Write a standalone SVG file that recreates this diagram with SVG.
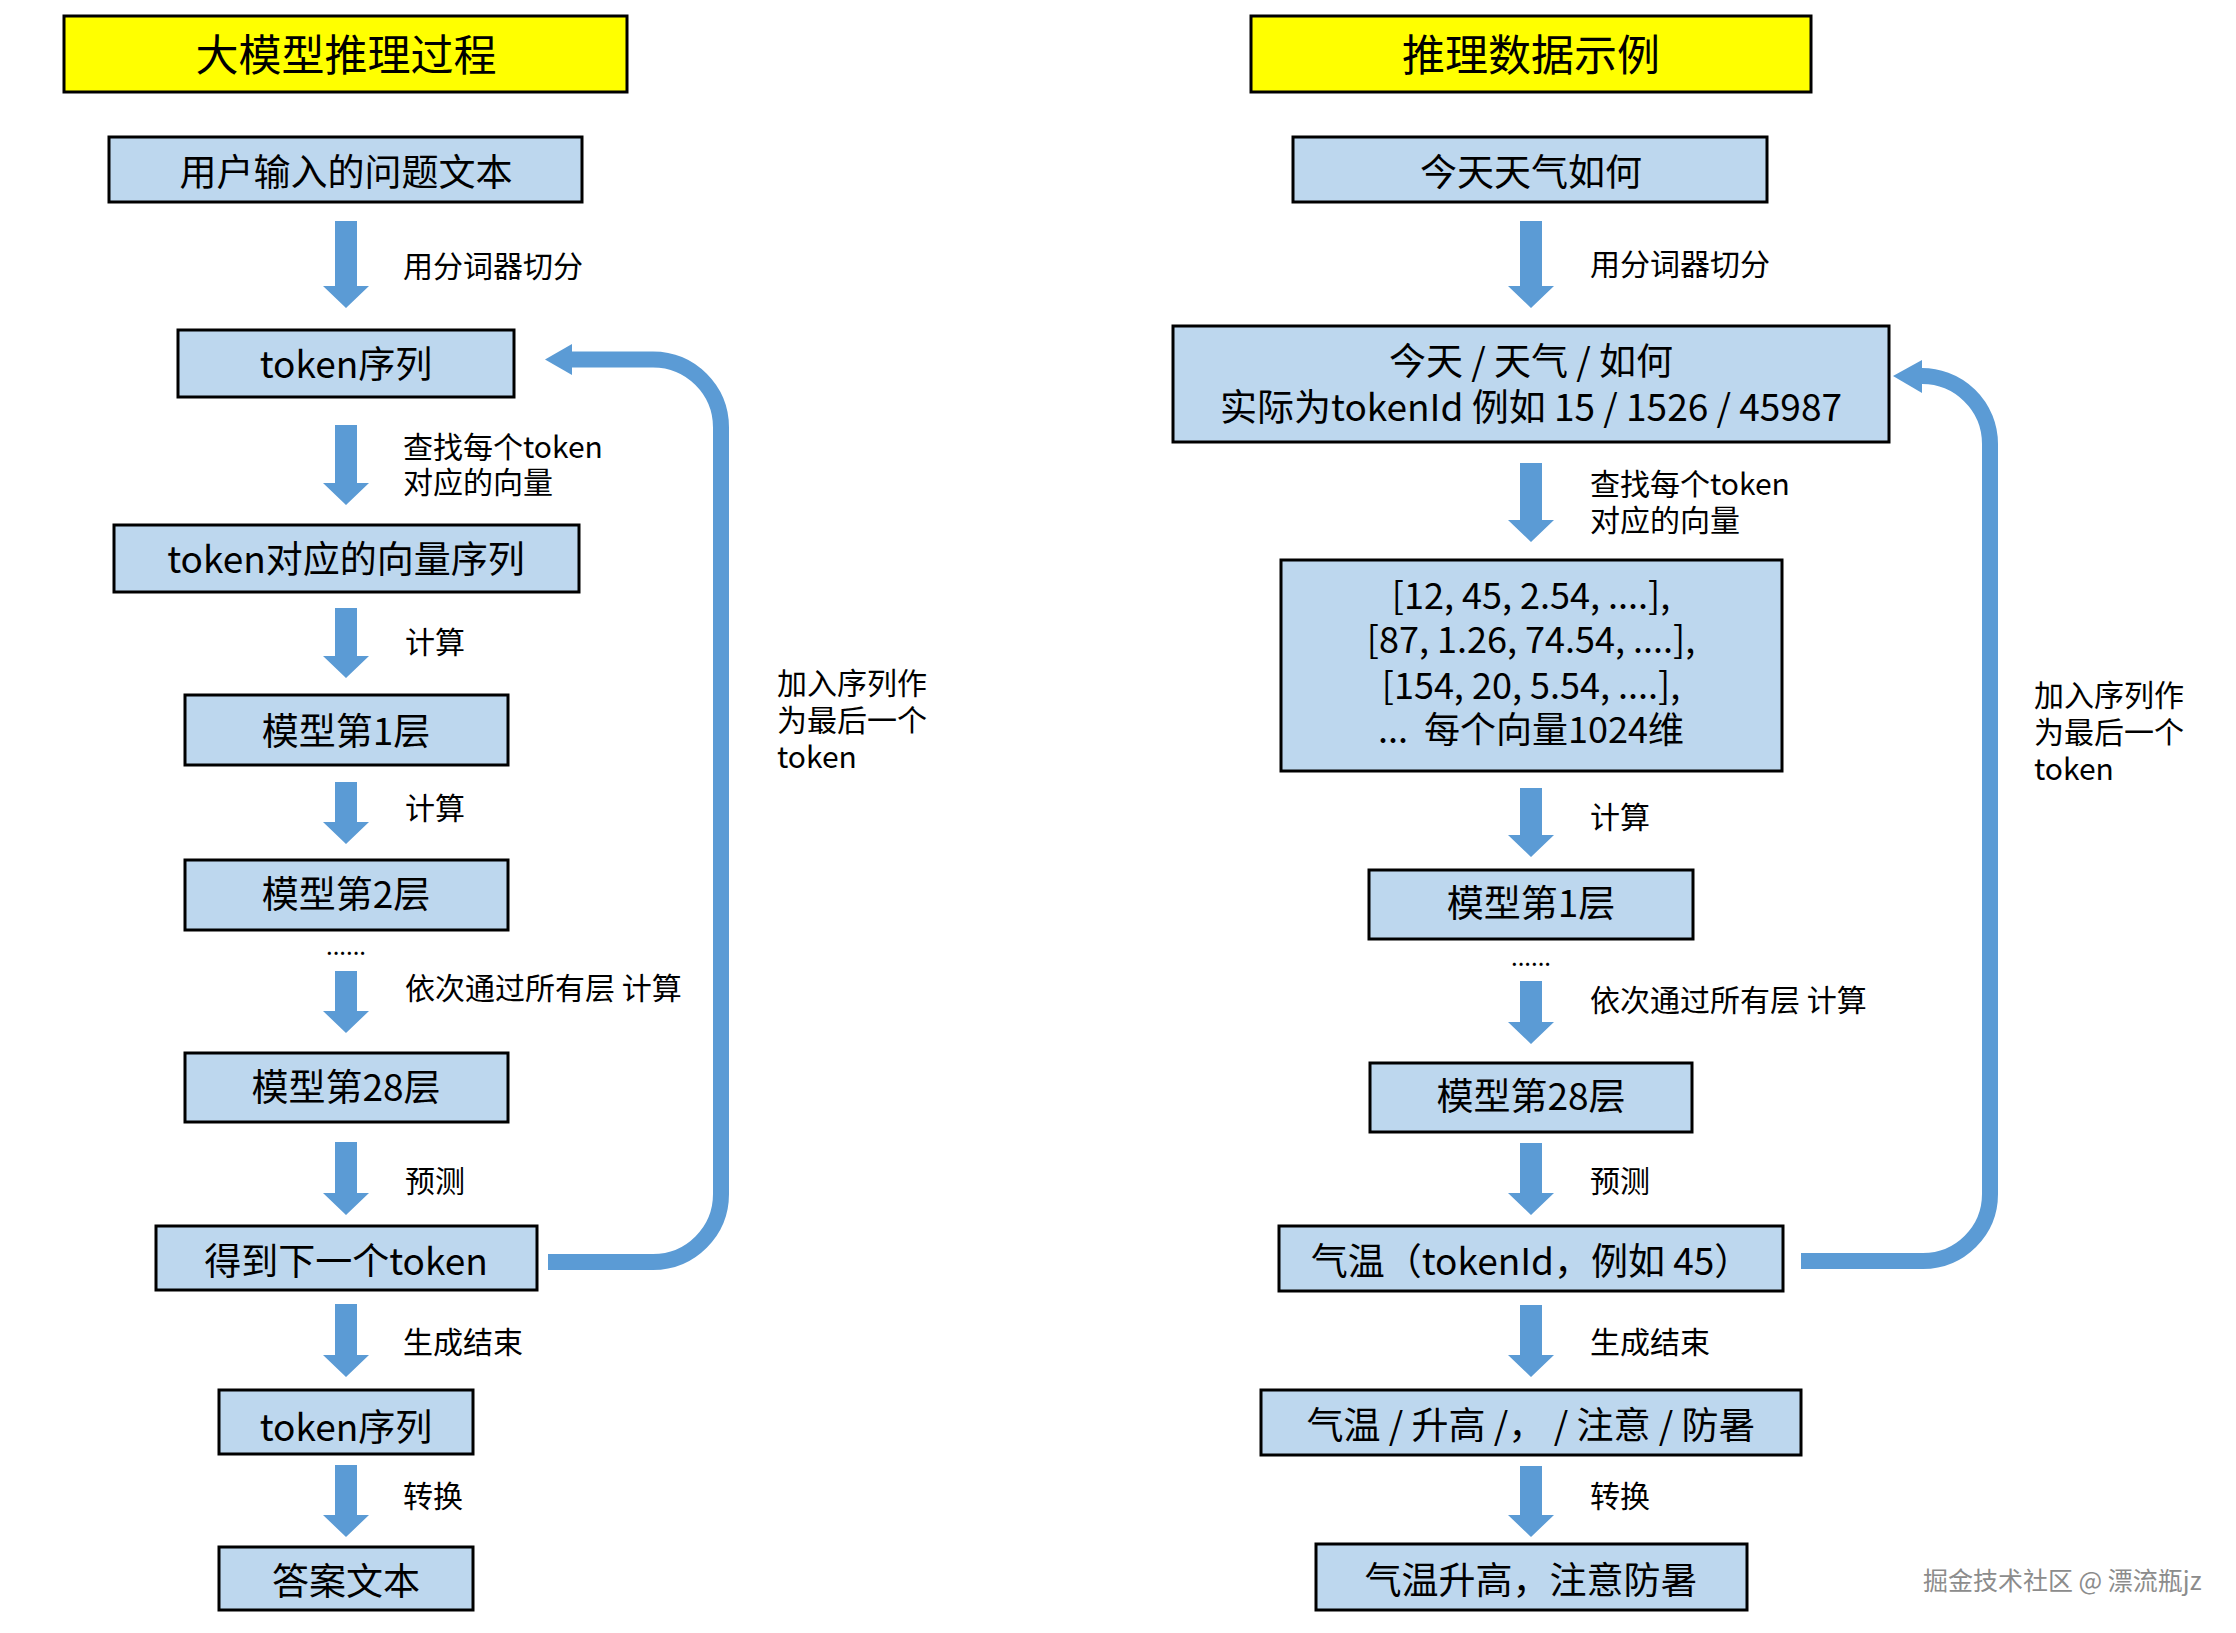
<svg xmlns="http://www.w3.org/2000/svg" width="2236" height="1633" viewBox="0 0 2236 1633">
<style>
text{font-family:"Noto Sans CJK SC","Liberation Sans",sans-serif;fill:#000}
.title{fill:#FFFF00;stroke:#000;stroke-width:3}
.box{fill:#BDD7EE;stroke:#000;stroke-width:3}
.tt{font-size:43px;text-anchor:middle}
.nt{font-size:37px;text-anchor:middle}
.vt{font-size:36px;text-anchor:middle}
.lb{font-size:30px}
.dots{font-size:24px;text-anchor:middle}
.arr{fill:#5B9BD5}
.loop{fill:none;stroke:#5B9BD5;stroke-width:16}
.wm{font-size:25px;fill:#8c8c8c}
</style>
<rect width="2236" height="1633" fill="#fff"/>

<g id="connectors">
  <path class="arr" d="M335 221H357V286H369L346 308L323 286H335Z"/>
  <path class="arr" d="M335 425H357V483H369L346 505L323 483H335Z"/>
  <path class="arr" d="M335 608H357V656H369L346 678L323 656H335Z"/>
  <path class="arr" d="M335 782H357V822H369L346 844L323 822H335Z"/>
  <path class="arr" d="M335 971H357V1011H369L346 1033L323 1011H335Z"/>
  <path class="arr" d="M335 1142H357V1193H369L346 1215L323 1193H335Z"/>
  <path class="arr" d="M335 1304H357V1355H369L346 1377L323 1355H335Z"/>
  <path class="arr" d="M335 1465H357V1515H369L346 1537L323 1515H335Z"/>
  <path class="arr" d="M1520 221H1542V286H1554L1531 308L1508 286H1520Z"/>
  <path class="arr" d="M1520 463H1542V520H1554L1531 542L1508 520H1520Z"/>
  <path class="arr" d="M1520 788H1542V835H1554L1531 857L1508 835H1520Z"/>
  <path class="arr" d="M1520 981H1542V1022H1554L1531 1044L1508 1022H1520Z"/>
  <path class="arr" d="M1520 1143H1542V1193H1554L1531 1215L1508 1193H1520Z"/>
  <path class="arr" d="M1520 1305H1542V1355H1554L1531 1377L1508 1355H1520Z"/>
  <path class="arr" d="M1520 1466H1542V1515H1554L1531 1537L1508 1515H1520Z"/>
  <path class="loop" d="M570 359.5H653A68 68 0 0 1 721 427.5V1194A68 68 0 0 1 653 1262H548"/>
  <path class="arr" d="M545 359.5L572 344V375Z"/>
  <path class="loop" d="M1920 376A68 68 0 0 1 1990 444V1194A67 67 0 0 1 1923 1261H1801"/>
  <path class="arr" d="M1893 376L1922 360V393Z"/>
</g>

<g id="left-title"><rect class="title" x="64" y="16" width="563" height="76"/><text class="tt" x="346" y="71">大模型推理过程</text></g>
<g id="l-input"><rect class="box" x="109" y="137" width="473" height="65"/><text class="nt" x="346" y="186">用户输入的问题文本</text></g>
<g id="l-tokens"><rect class="box" x="178" y="330" width="336" height="67"/><text class="nt" x="346" y="378">token序列</text></g>
<g id="l-vectors"><rect class="box" x="114" y="525" width="465" height="67"/><text class="nt" x="346" y="573">token对应的向量序列</text></g>
<g id="l-layer1"><rect class="box" x="185" y="695" width="323" height="70"/><text class="nt" x="346" y="745">模型第1层</text></g>
<g id="l-layer2"><rect class="box" x="185" y="860" width="323" height="70"/><text class="nt" x="346" y="908">模型第2层</text></g>
<g id="l-layer28"><rect class="box" x="185" y="1053" width="323" height="69"/><text class="nt" x="346" y="1101">模型第28层</text></g>
<g id="l-next"><rect class="box" x="156" y="1226" width="381" height="64"/><text class="nt" x="346" y="1275">得到下一个token</text></g>
<g id="l-tokens2"><rect class="box" x="219" y="1390" width="254" height="64"/><text class="nt" x="346" y="1441">token序列</text></g>
<g id="l-answer"><rect class="box" x="219" y="1547" width="254" height="63"/><text class="nt" x="346" y="1595">答案文本</text></g>

<g id="left-labels">
  <text class="lb" x="403" y="277">用分词器切分</text>
  <text class="lb" x="403" y="458">查找每个token<tspan x="403" dy="35">对应的向量</tspan></text>
  <text class="lb" x="405" y="653">计算</text>
  <text class="lb" x="405" y="819">计算</text>
  <text class="dots" x="346" y="955">......</text>
  <text class="lb" x="405" y="999">依次通过所有层 计算</text>
  <text class="lb" x="405" y="1192">预测</text>
  <text class="lb" x="403" y="1353">生成结束</text>
  <text class="lb" x="403" y="1507">转换</text>
  <text class="lb" x="777" y="694">加入序列作<tspan x="777" dy="37">为最后一个</tspan><tspan x="777" dy="37">token</tspan></text>
</g>

<g id="right-title"><rect class="title" x="1251" y="16" width="560" height="76"/><text class="tt" x="1531" y="71">推理数据示例</text></g>
<g id="r-input"><rect class="box" x="1293" y="137" width="474" height="65"/><text class="nt" x="1531" y="186">今天天气如何</text></g>
<g id="r-tokens"><rect class="box" x="1173" y="326" width="716" height="116"/><text class="nt" x="1531" y="375">今天 / 天气 / 如何<tspan x="1531" dy="46">实际为tokenId 例如 15 / 1526 / 45987</tspan></text></g>
<g id="r-vectors"><rect class="box" x="1281" y="560" width="501" height="211"/>
  <text class="vt" x="1531" y="609" xml:space="preserve">[12, 45, 2.54, ....],<tspan x="1531" dy="44">[87, 1.26, 74.54, ....],</tspan><tspan x="1531" dy="46">[154, 20, 5.54, ....],</tspan><tspan x="1531" dy="44">...  每个向量1024维</tspan></text>
</g>
<g id="r-layer1"><rect class="box" x="1369" y="870" width="324" height="69"/><text class="nt" x="1531" y="917">模型第1层</text></g>
<g id="r-layer28"><rect class="box" x="1370" y="1063" width="322" height="69"/><text class="nt" x="1531" y="1110">模型第28层</text></g>
<g id="r-next"><rect class="box" x="1279" y="1226" width="504" height="65"/><text class="nt" x="1531" y="1275">气温（tokenId，例如 45）</text></g>
<g id="r-tokens2"><rect class="box" x="1261" y="1390" width="540" height="65"/><text class="nt" x="1531" y="1439">气温 / 升高 /， / 注意 / 防暑</text></g>
<g id="r-answer"><rect class="box" x="1316" y="1544" width="431" height="66"/><text class="nt" x="1531" y="1594">气温升高，注意防暑</text></g>

<g id="right-labels">
  <text class="lb" x="1590" y="275">用分词器切分</text>
  <text class="lb" x="1590" y="495">查找每个token<tspan x="1590" dy="36">对应的向量</tspan></text>
  <text class="lb" x="1590" y="828">计算</text>
  <text class="dots" x="1531" y="966">......</text>
  <text class="lb" x="1590" y="1011">依次通过所有层 计算</text>
  <text class="lb" x="1590" y="1192">预测</text>
  <text class="lb" x="1590" y="1353">生成结束</text>
  <text class="lb" x="1590" y="1507">转换</text>
  <text class="lb" x="2034" y="706">加入序列作<tspan x="2034" dy="37">为最后一个</tspan><tspan x="2034" dy="37">token</tspan></text>
</g>

<text class="wm" x="1923" y="1590">掘金技术社区 @ 漂流瓶jz</text>
</svg>
